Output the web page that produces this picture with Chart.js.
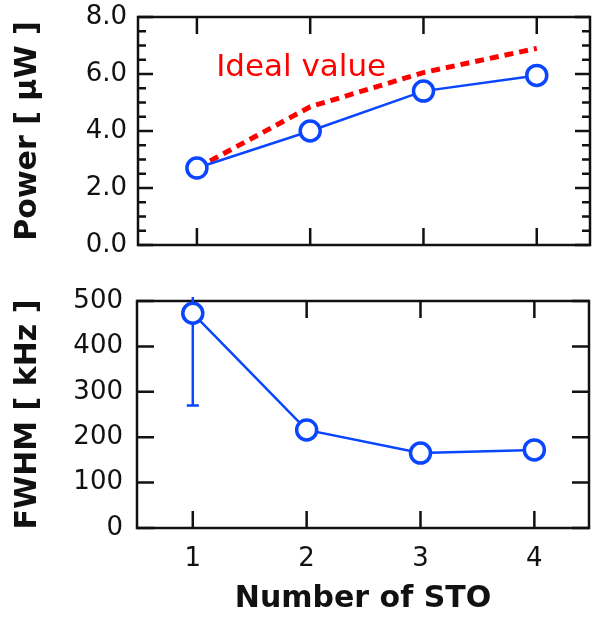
<!DOCTYPE html>
<html>
<head>
<meta charset="utf-8">
<script src="https://cdn.jsdelivr.net/npm/chart.js@4.4.1/dist/chart.umd.min.js"></script>
<style>
    html, body { margin: 0; padding: 0; background: #fff; }
    #wrap { position: relative; width: 592px; height: 617px; }
    canvas { position: absolute; left: 0; }
    #powerChart { top: 0; }
    #fwhmChart { top: 270px; }
</style>
</head>
<body>
<div id="wrap">
    <canvas id="powerChart" width="592" height="270"></canvas>
    <canvas id="fwhmChart" width="592" height="347"></canvas>
</div>
<script>
// Data
const stoCount = [1, 2, 3, 4];
const powerMeasured = [2.7, 4.0, 5.4, 5.95];
const powerIdeal = [2.7, 4.85, 6.05, 6.9];
const fwhm = [473, 216, 165, 172];
const fwhmErrLow = [270, null, null, null];
const fwhmErrHigh = [509, null, null, null];
const powerTicks = [0, 2, 4, 6, 8];
const powerMinorTicks = [0.5, 1, 1.5, 2.5, 3, 3.5, 4.5, 5, 5.5, 6.5, 7, 7.5];
const fwhmTicks = [0, 100, 200, 300, 400, 500];

const BLUE = '#0a46ff';
const RED = '#ff0000';
const INK = '#111';
Chart.defaults.font.family = "'DejaVu Sans', Verdana, sans-serif";
Chart.defaults.color = INK;

const toPoints = (xs, ys) => xs.map((x, i) => ({ x: x, y: ys[i] }));

// the label overflow padding would shrink the plot, the layout padding handles it
const noOverflow = s => {
    s.paddingTop = 0; s.paddingBottom = 0;
    s.paddingLeft = 0; s.paddingRight = 0;
};

// Box round the plot area with inward tick marks
const frameTicks = {
    id: 'frameTicks',
    beforeDatasetsDraw(chart, args, opts) {
        const { ctx, chartArea: a, scales: { x, y } } = chart;
        ctx.save();
        ctx.strokeStyle = INK;
        ctx.lineWidth = 2.5;
        ctx.beginPath();
        opts.xTicks.forEach(v => {
            const px = x.getPixelForValue(v);
            ctx.moveTo(px, a.bottom); ctx.lineTo(px, a.bottom - opts.xLen);
            ctx.moveTo(px, a.top); ctx.lineTo(px, a.top + opts.xLen);
        });
        opts.yMajor.forEach(v => {
            const py = y.getPixelForValue(v);
            ctx.moveTo(a.left, py); ctx.lineTo(a.left + opts.yLen, py);
            ctx.moveTo(a.right, py); ctx.lineTo(a.right - opts.yLen, py);
        });
        (opts.yMinor || []).forEach(v => {
            const py = y.getPixelForValue(v);
            ctx.moveTo(a.left, py); ctx.lineTo(a.left + opts.minorLen, py);
            ctx.moveTo(a.right, py); ctx.lineTo(a.right - opts.minorLen, py);
        });
        ctx.stroke();
        ctx.strokeRect(a.left, a.top, a.width, a.height);
        ctx.restore();
    }
};

// Vertical error bars (drawn before the markers so the circles sit on top)
const errorBars = {
    id: 'errorBars',
    beforeDatasetsDraw(chart, args, opts) {
        if (!opts.low) return;
        const { ctx, scales: { x, y } } = chart;
        ctx.save();
        ctx.strokeStyle = BLUE;
        ctx.lineWidth = 2.5;
        opts.x.forEach((v, i) => {
            if (opts.low[i] == null) return;
            const px = x.getPixelForValue(v);
            const yLo = y.getPixelForValue(opts.low[i]);
            const yHi = y.getPixelForValue(opts.high[i]);
            ctx.beginPath();
            ctx.moveTo(px, yHi); ctx.lineTo(px, yLo);
            ctx.moveTo(px - 6, yLo); ctx.lineTo(px + 6, yLo);
            ctx.stroke();
        });
        ctx.restore();
    }
};

// "Ideal value" note placed in data coordinates
const noteLabel = {
    id: 'noteLabel',
    afterDatasetsDraw(chart, args, opts) {
        if (!opts.text) return;
        const { ctx, scales: { x, y } } = chart;
        ctx.save();
        ctx.fillStyle = opts.color;
        ctx.font = opts.font;
        ctx.textAlign = 'left';
        ctx.textBaseline = 'alphabetic';
        ctx.fillText(opts.text, x.getPixelForValue(opts.at[0]), y.getPixelForValue(opts.at[1]));
        ctx.restore();
    }
};

function valueAxis(ticksList, width, pad, label, fmt) {
    return {
        grid: { display: false, drawTicks: false },
        border: { display: false },
        afterFit: s => { s.width = width; noOverflow(s); },
        afterBuildTicks: s => { s.ticks = ticksList.map(v => ({ value: v })); },
        ticks: { padding: pad, font: { size: 26 }, color: INK, callback: fmt },
        title: {
            display: true, text: label, color: INK,
            font: { size: 30, weight: 'bold' },
            padding: { top: 10, bottom: 0 }
        }
    };
}

// Power chart
new Chart(document.getElementById('powerChart'), {
    type: 'line',
    data: {
        datasets: [{
            label: 'Measured',
            data: toPoints(stoCount, powerMeasured),
            borderColor: BLUE,
            borderWidth: 2.5,
            pointRadius: 10,
            pointBorderWidth: 3.5,
            pointBorderColor: BLUE,
            pointBackgroundColor: '#fff',
            order: 0,
        }, {
            label: 'Ideal value',
            data: toPoints(stoCount, powerIdeal),
            borderColor: RED,
            borderWidth: 5,
            borderDash: [9, 6],
            pointRadius: 0,
            order: 1,
        }]
    },
    options: {
        responsive: false,
        animation: false,
        layout: { autoPadding: false, padding: { top: 17, right: 2, bottom: 25, left: 0 } },
        plugins: {
            legend: { display: false },
            tooltip: { enabled: false },
            frameTicks: { xTicks: stoCount, xLen: 17, yMajor: powerTicks, yLen: 15, yMinor: powerMinorTicks, minorLen: 8 },
            noteLabel: { text: 'Ideal value', at: [1.17, 5.93], color: RED, font: "31px 'DejaVu Sans', Verdana, sans-serif" },
        },
        scales: {
            x: { type: 'linear', min: 0.48, max: 4.47, display: false, afterFit: noOverflow },
            y: Object.assign({ min: 0, max: 8 },
                valueAxis(powerTicks, 138, 11, 'Power [ μW ]', v => v.toFixed(1))),
        }
    },
    plugins: [frameTicks, noteLabel]
});

// FWHM chart
new Chart(document.getElementById('fwhmChart'), {
    type: 'line',
    data: {
        datasets: [{
            label: 'FWHM',
            data: toPoints(stoCount, fwhm),
            borderColor: BLUE,
            borderWidth: 2.5,
            pointRadius: 10,
            pointBorderWidth: 3.5,
            pointBorderColor: BLUE,
            pointBackgroundColor: '#fff',
        }]
    },
    options: {
        responsive: false,
        animation: false,
        layout: { autoPadding: false, padding: { top: 31, right: 3, bottom: 0, left: 0 } },
        plugins: {
            legend: { display: false },
            tooltip: { enabled: false },
            frameTicks: { xTicks: stoCount, xLen: 17, yMajor: fwhmTicks, yLen: 17 },
            errorBars: { x: stoCount, low: fwhmErrLow, high: fwhmErrHigh },
        },
        scales: {
            x: {
                type: 'linear', min: 0.51, max: 4.48, position: 'bottom',
                grid: { display: false, drawTicks: false },
                border: { display: false },
                afterBuildTicks: s => { s.ticks = stoCount.map(v => ({ value: v })); },
                afterFit: s => { s.height = 89; noOverflow(s); },
                ticks: { padding: 16, font: { size: 26 }, color: INK, maxRotation: 0, autoSkip: false },
                title: {
                    display: true, text: 'Number of STO', color: INK,
                    font: { size: 30, weight: 'bold' },
                    padding: { top: 0, bottom: 0 }
                }
            },
            y: Object.assign({ min: 0, max: 500 },
                valueAxis(fwhmTicks, 137, 14, 'FWHM [ kHz ]', v => String(v))),
        }
    },
    plugins: [frameTicks, errorBars]
});
</script>
</body>
</html>
